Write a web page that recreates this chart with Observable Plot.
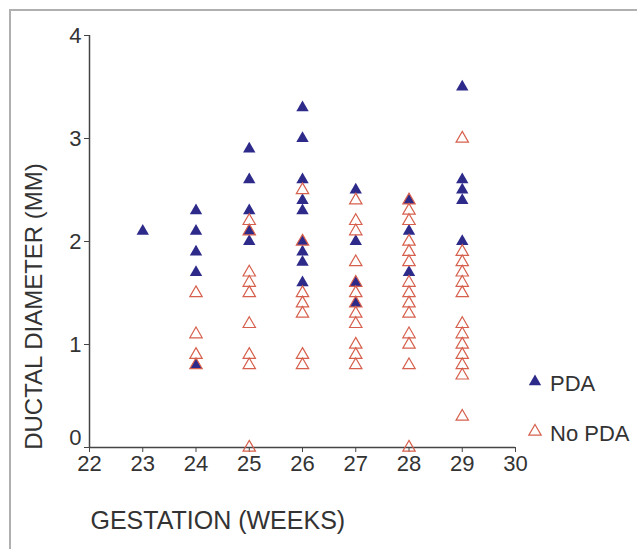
<!DOCTYPE html>
<html><head><meta charset="utf-8">
<script src="https://cdn.jsdelivr.net/npm/d3@7"></script>
<script src="https://cdn.jsdelivr.net/npm/@observablehq/plot@0.6"></script>
<style>
html,body{margin:0;padding:0;background:#fff;overflow:hidden}
#wrap{position:relative;width:637px;height:549px;overflow:hidden;font-family:"Liberation Sans",Arial,sans-serif}
#frame{position:absolute;left:9px;top:9px;width:640px;height:560px;border:2px solid #b0b0b0;box-sizing:border-box}
#chart{position:absolute;left:0;top:0}
.leg{position:absolute;font-size:22px;color:#333;line-height:1;white-space:nowrap}
.leg svg{position:absolute}
</style></head><body>
<div id="wrap"><div id="frame"></div><div id="chart"></div><div id="legend"></div></div>
<script>
// Data: [gestation week, ductal diameter (mm)]
const pdaPoints = [
  [23,2.1],
  [24,2.3],[24,2.1],[24,1.9],[24,1.7],[24,0.8],
  [25,2.9],[25,2.6],[25,2.3],[25,2.1],[25,2.0],
  [26,3.3],[26,3.0],[26,2.6],[26,2.4],[26,2.3],[26,2.0],[26,1.9],[26,1.8],[26,1.6],
  [27,2.5],[27,2.0],[27,1.6],[27,1.4],
  [28,2.4],[28,2.1],[28,1.7],
  [29,3.5],[29,2.6],[29,2.5],[29,2.4],[29,2.0]
];
const noPdaPoints = [
  [24,1.5],[24,1.1],[24,0.9],[24,0.8],
  [25,2.2],[25,2.1],[25,1.7],[25,1.6],[25,1.5],[25,1.2],[25,0.9],[25,0.8],[25,0.0],
  [26,2.5],[26,2.0],[26,1.5],[26,1.4],[26,1.3],[26,0.9],[26,0.8],
  [27,2.4],[27,2.2],[27,2.1],[27,1.8],[27,1.6],[27,1.5],[27,1.4],[27,1.3],[27,1.2],[27,1.0],[27,0.9],[27,0.8],
  [28,2.4],[28,2.3],[28,2.2],[28,2.0],[28,1.9],[28,1.8],[28,1.6],[28,1.5],[28,1.4],[28,1.3],[28,1.1],[28,1.0],[28,0.8],[28,0.0],
  [29,3.0],[29,1.9],[29,1.8],[29,1.7],[29,1.6],[29,1.5],[29,1.2],[29,1.1],[29,1.0],[29,0.9],[29,0.8],[29,0.7],[29,0.3]
];
const xTicks = [22,23,24,25,26,27,28,29,30];
const yTicks = [1,2,3,4];
const yZeroTick = [0];
const xTitle = "GESTATION (WEEKS)";
const yTitle = "DUCTAL DIAMETER (MM)";
const legendLabels = ["PDA","No PDA"];

const pdaColor = "#2d2a8a";
const noPdaColor = "#d6604d";
const axisColor = "#444";
const textColor = "#333";

const chart = Plot.plot({
  width: 637, height: 549,
  marginLeft: 89, marginRight: 122, marginTop: 35, marginBottom: 102,
  x: {domain: [22, 30]},
  y: {domain: [0, 4]},
  style: {fontFamily: '"Liberation Sans", Arial, sans-serif', fontSize: "22px", color: textColor, background: "transparent", overflow: "visible"},
  marks: [
    Plot.axisX({ticks: xTicks, tickSize: 5, tickPadding: 3, tickFormat: d => String(d), label: null, stroke: axisColor, fill: textColor, fontSize: 22}),
    Plot.axisY({ticks: yTicks, tickSize: 5, tickPadding: 3, tickFormat: d => String(d), label: null, stroke: axisColor, fill: textColor, fontSize: 22}),
    Plot.axisY({ticks: yZeroTick, tickSize: 5, tickFormat: () => "", label: null, stroke: axisColor}),
    Plot.axisY({ticks: yZeroTick, tickSize: 0, tickPadding: 8, tickFormat: d => String(d), label: null, fill: textColor, fontSize: 22, dy: -10}),
    Plot.ruleX([22], {stroke: axisColor, strokeWidth: 1.5}),
    Plot.ruleY([0], {stroke: axisColor, strokeWidth: 1.5}),
    Plot.dot(pdaPoints, {x: d => d[0], y: d => d[1], symbol: "triangle", r: 4.6, fill: pdaColor, stroke: "none"}),
    Plot.dot(noPdaPoints, {x: d => d[0], y: d => d[1], symbol: "triangle", r: 4.6, fill: "none", stroke: noPdaColor, strokeWidth: 1.2}),
    Plot.text([xTitle], {frameAnchor: "bottom-left", dx: 1, dy: 81, textAnchor: "start", fontSize: 25, fill: textColor}),
    Plot.text([yTitle], {frameAnchor: "left", rotate: -90, dx: -55, dy: 65, textAnchor: "middle", fontSize: 24, fill: textColor})
  ]
});
document.getElementById("chart").appendChild(chart);

// legend
const legend = document.getElementById("legend");
const rows = [
  {label: legendLabels[0], top: 372, fill: pdaColor, stroke: "none"},
  {label: legendLabels[1], top: 422, fill: "none", stroke: noPdaColor}
];
rows.forEach(r => {
  const d = document.createElement("div");
  d.className = "leg";
  d.style.left = "527px";
  d.style.top = r.top + "px";
  d.innerHTML = `<svg width="16" height="16" style="left:0;top:0"><polygon points="8,2.5 14.2,13.2 1.8,13.2" fill="${r.fill}" stroke="${r.stroke}" stroke-width="1.2"/></svg><span style="position:absolute;left:23px;top:1px">${r.label}</span>`;
  legend.appendChild(d);
});
</script>
</body></html>
